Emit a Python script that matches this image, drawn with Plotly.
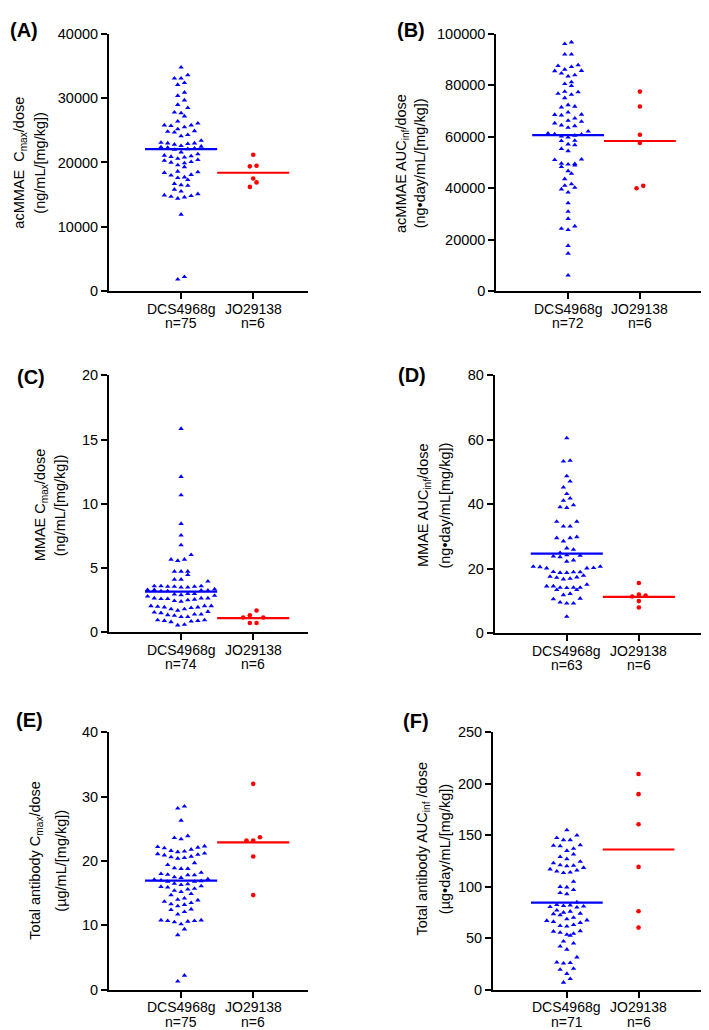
import numpy as np
import plotly.graph_objects as go

# ---------------- data ----------------
groups = ["DCS4968g", "JO29138"]

A_n = [75, 6]
A_dcs = [34800, 33600, 33100, 33100, 32400, 32100, 30900, 30400, 29700, 29000,
         28500, 27800, 27700, 27200, 26400, 26100, 25800, 25800, 25700, 25500,
         25200, 24900, 24800, 24700, 24300, 24100, 23400, 23100, 23000, 23000,
         22900, 22800, 22600, 22500, 22400, 22300, 22200, 22100, 22000, 21600,
         21300, 21100, 21000, 20900, 20800, 20600, 20400, 20300, 20100, 20000,
         19900, 19600, 19300, 18600, 18500, 18400, 18100, 18000, 17700, 17600,
         17300, 16700, 16500, 16400, 15800, 15500, 15100, 14900, 14800, 14700,
         14600, 14400, 11900, 2200, 1800]
A_jo = [21200, 19400, 19500, 17500, 16200, 16900]
A_means = [22070, 18400]

B_n = [72, 6]
B_dcs = [96800, 96200, 92100, 92100, 87900, 87600, 87200, 86200, 85700, 85600,
         84700, 84000, 83500, 81300, 80600, 79800, 77600, 77400, 76800, 76400,
         75100, 72400, 71800, 71500, 69500, 68700, 68600, 68400, 67200, 66300,
         65900, 65300, 64500, 64200, 63600, 62100, 61300, 61000, 60900, 60500,
         60200, 59800, 58500, 58400, 57100, 56800, 55300, 54500, 51200, 51000,
         49600, 49500, 49300, 48900, 48300, 46700, 45700, 43600, 41600, 41000,
         40200, 39600, 38400, 34200, 30900, 28100, 25200, 24300, 23800, 17600,
         14600, 6100]
B_jo = [77600, 71800, 60800, 57600, 40000, 40900]
B_means = [60660, 58360]

C_n = [74, 6]
C_dcs = [15.84, 12.11, 10.68, 8.45, 7.54, 6.79, 6.03, 5.67, 5.57, 5.67,
         4.73, 4.73, 4.73, 4.47, 4.11, 3.96, 4.11,
         3.6, 3.55, 3.5, 3.6, 3.55, 3.5, 3.6, 3.55,
         3.3, 3.25, 3.2, 3.3, 3.25, 3.2, 3.35,
         3.0, 2.9, 2.85, 2.95, 3.0, 2.8,
         2.65, 2.55, 2.45, 2.6, 2.5, 2.65, 2.4, 2.6, 2.65,
         2.05, 2.0, 1.95, 2.05, 1.7, 1.8, 1.9, 1.8, 1.95, 2.05,
         1.4, 1.35, 1.2, 1.5, 1.6, 1.55, 1.4, 1.3, 1.2,
         0.95, 0.9, 0.8, 0.9, 0.95, 0.85,
         0.6, 0.55]
C_jo = [1.15, 1.69, 1.33, 1.15, 0.72, 0.72]
C_means = [3.17, 1.10]

D_n = [63, 6]
D_dcs = [60.5, 53.5, 53.3, 48.7, 47.1, 45.2, 43.2, 41.8, 41.1, 39.7, 39.1, 38.9,
         34.6, 34.6, 33.1, 33.1,
         29.8, 29.5, 29.5, 28.5,
         26.3, 25.9, 24.9,
         24.2, 23.8, 23.6, 24.0,
         22.6, 22.2,
         20.1, 20.1, 20.6, 20.6, 20.2, 20.5,
         18.9, 18.7, 18.7, 18.9, 19.0,
         17.5, 17.2, 16.7, 16.9, 17.3, 17.8,
         15.0, 14.5, 14.1, 14.1, 14.1, 14.5,
         13.4, 13.4, 14.0,
         11.8, 12.2,
         10.5, 9.2, 9.2, 9.5, 10.7,
         5.1]
D_jo = [15.5, 11.6, 11.9, 9.9, 7.9, 11.3]
D_means = [24.66, 11.2]

E_n = [75, 6]
E_dcs = [28.5, 28.2, 26.3, 23.9, 23.6, 23.4,
         22.3, 22.2, 22.1, 22.0, 21.8, 21.6, 21.5, 21.4, 21.2, 21.1, 21.0, 20.9,
         20.7, 20.6, 20.5, 20.4,
         19.7, 19.4, 18.9, 18.8, 18.8, 18.2,
         18.0, 17.9, 17.8, 17.8, 17.5, 17.4, 17.2, 17.1, 17.0, 16.9, 16.8, 16.8,
         16.5, 16.4, 16.3, 16.1, 16.0, 15.9, 15.7, 15.6, 15.4, 15.2,
         14.9, 14.7, 14.2, 14.0, 13.9, 13.7, 13.5, 13.3, 13.2, 13.0,
         12.5, 12.4, 12.1, 11.7,
         10.8, 10.8, 10.7, 10.6, 10.5, 10.7, 10.2,
         9.4, 8.5,
         2.2, 1.3]
E_jo = [32.0, 23.7, 23.2, 23.2, 20.7, 14.7]
E_means = [16.94, 22.9]

F_n = [71, 6]
F_dcs = [155, 150, 147.5, 145.5, 145.5,
         140.5, 140, 139.5, 137,
         135, 131.5, 129, 127, 124.5, 123,
         121, 120.5, 120, 118.5, 117, 116,
         115, 114, 113.5,
         105,
         100, 99.5, 97,
         94, 93,
         85,
         82.5, 82, 81.5, 81, 80.5, 80,
         77, 76, 75, 74, 73.5, 72.5,
         70, 68.5, 67.5, 67, 66, 65,
         63, 62, 61.5,
         57, 56.5, 55.5, 54.5, 53.5, 52.5,
         47, 45, 42, 39,
         31.5,
         26.5, 26, 25.5,
         20.5, 19.5,
         15.5, 10.5, 7]
F_jo = [209.5, 190, 160.7, 119.3, 76.2, 60.3]
F_means = [84.5, 136.2]

titles_line1 = ["acMMAE  C<sub>max</sub>/dose",
                "acMMAE AUC<sub>inf</sub>/dose",
                "MMAE C<sub>max</sub>/dose",
                "MMAE AUC<sub>inf</sub>/dose",
                "Total antibody C<sub>max</sub>/dose",
                "Total antibody AUC<sub>inf</sub> /dose"]
titles_line2 = ["(ng/mL/[mg/kg])",
                "(ng•day/mL/[mg/kg])",
                "(ng/mL/[mg/kg])",
                "(ng•day/mL[mg/kg])",
                "(µg/mL/[mg/kg])",
                "(µg•day/mL/[mg/kg])"]
letters = ["(A)", "(B)", "(C)", "(D)", "(E)", "(F)"]
y_max = [40000, 100000, 20, 80, 40, 250]
y_dtick = [10000, 20000, 5, 20, 10, 50]

# ---------------- layout geometry (pixels) ----------------
W, H = 709, 1030
# left px, right px, top px, bottom px, x-range
geom = [
    (101, 300, 18.3, 279.3, (0, 2.76)),
    (488.3, 708, 18.3, 279.3, (0, 3.06)),
    (101, 300, 365, 626, (0, 2.76)),
    (486.7, 708, 365, 626.7, (0, 3.07)),
    (101, 300, 727.7, 989, (0, 2.76)),
    (485, 708, 727.7, 989, (-0.03, 3.08)),
]
title_pos = [((12, 32), 149), ((393.3, 411.7), 150), ((33, 52), 497),
             ((416.7, 437.3), 497), ((28, 53), 858), ((414.7, 437.3), 846)]
letter_pos = [(16, 14), (402.5, 14), (22.5, 366.5), (404, 365),
              (21.5, 715), (407.5, 716.5)]

panels = [
    (A_dcs, A_jo, A_means, A_n),
    (B_dcs, B_jo, B_means, B_n),
    (C_dcs, C_jo, C_means, C_n),
    (D_dcs, D_jo, D_means, D_n),
    (E_dcs, E_jo, E_means, E_n),
    (F_dcs, F_jo, F_means, F_n),
]

BLUE = "#0000FF"
RED = "#FF0000"
FONT = "Liberation Sans, Arial, Helvetica, sans-serif"


def swarm(values, center, px_per_x, px_per_y, w_px=6.7, h_px=6.5):
    v = np.asarray(values, float)
    order = np.argsort(v)
    xs = np.zeros(len(v))
    rows, cur, start = [], [order[0]], v[order[0]]
    for i in order[1:]:
        if (v[i] - start) * px_per_y < h_px:
            cur.append(i)
        else:
            rows.append(cur)
            cur, start = [i], v[i]
    rows.append(cur)
    for row in rows:
        n = len(row)
        slots = [k - (n - 1) / 2 for k in range(n)]
        slot_order = sorted(range(n), key=lambda k: (abs(slots[k]), -slots[k] if k % 2 else slots[k]))
        for j, pt in enumerate(row):
            xs[pt] = center + slots[slot_order[j]] * w_px / px_per_x
    return xs


fig = go.Figure()
annotations = []
layout_axes = {}

for k, (dcs, jo, means, ns) in enumerate(panels):
    left, right, top, bottom, xr = geom[k]
    sfx = "" if k == 0 else str(k + 1)
    xname, yname = "x" + sfx, "y" + sfx
    px_per_x = (right - left) / (xr[1] - xr[0])
    px_per_y = (bottom - top) / y_max[k]

    x_dcs = swarm(dcs, 1, px_per_x, px_per_y)
    x_jo = swarm(jo, 2, px_per_x, px_per_y)

    fig.add_trace(go.Scatter(x=x_dcs, y=dcs, mode="markers", xaxis=xname, yaxis=yname,
                             marker=dict(symbol="triangle-up", size=4.8, color=BLUE),
                             cliponaxis=False, showlegend=False, hoverinfo="y"))
    fig.add_trace(go.Scatter(x=x_jo, y=jo, mode="markers", xaxis=xname, yaxis=yname,
                             marker=dict(symbol="circle", size=4.6, color=RED),
                             cliponaxis=False, showlegend=False, hoverinfo="y"))
    for c, (m, col) in enumerate(zip(means, [BLUE, RED])):
        fig.add_trace(go.Scatter(x=[c + 1 - 0.5, c + 1 + 0.5], y=[m, m], mode="lines",
                                 xaxis=xname, yaxis=yname,
                                 line=dict(color=col, width=2.2),
                                 cliponaxis=False, showlegend=False, hoverinfo="skip"))

    layout_axes["xaxis" + sfx] = dict(
        domain=[left / W, right / W], range=list(xr), anchor=yname,
        tickvals=[1, 2], showticklabels=False,
        showline=True, linewidth=2, linecolor="black", mirror=False,
        ticks="outside", ticklen=6, tickwidth=2, tickcolor="black",
        showgrid=False, zeroline=False, fixedrange=True)
    layout_axes["yaxis" + sfx] = dict(
        domain=[1 - bottom / H, 1 - top / H], range=[0, y_max[k]], anchor=xname,
        dtick=y_dtick[k], tick0=0, tickformat="d",
        showline=True, linewidth=2, linecolor="black",
        ticks="outside", ticklen=6, tickwidth=2, tickcolor="black",
        showgrid=False, zeroline=False, fixedrange=True,
        tickfont=dict(family=FONT, size=14.5, color="black"))

    # category labels (two lines under each category tick)
    for c, (g, n) in enumerate(zip(groups, ns)):
        cx = left + (c + 1 - xr[0]) * px_per_x
        for dy, txt in ((18, g), (32.5, f"n={n}")):
            annotations.append(dict(x=cx / W, y=1 - (bottom + dy) / H,
                                    xref="paper", yref="paper", text=txt,
                                    showarrow=False, xanchor="center", yanchor="middle",
                                    font=dict(family=FONT, size=14, color="black")))

    (tx1, tx2), ty = title_pos[k]
    for tx, txt in ((tx1, titles_line1[k]), (tx2, titles_line2[k])):
        annotations.append(dict(x=tx / W, y=1 - ty / H, xref="paper", yref="paper",
                                text=txt, showarrow=False, textangle=-90,
                                xanchor="center", yanchor="middle",
                                font=dict(family=FONT, size=14.5, color="black")))
    lx, ly = letter_pos[k]
    annotations.append(dict(x=lx / W, y=1 - ly / H, xref="paper", yref="paper",
                            text=f"<b>{letters[k]}</b>", showarrow=False,
                            xanchor="center", yanchor="middle",
                            font=dict(family=FONT, size=20, color="black")))

fig.update_layout(
    width=W, height=H,
    margin=dict(l=0, r=0, t=0, b=0),
    paper_bgcolor="white", plot_bgcolor="white",
    showlegend=False,
    annotations=annotations,
    **layout_axes,
)

fig.write_html("out.html")
